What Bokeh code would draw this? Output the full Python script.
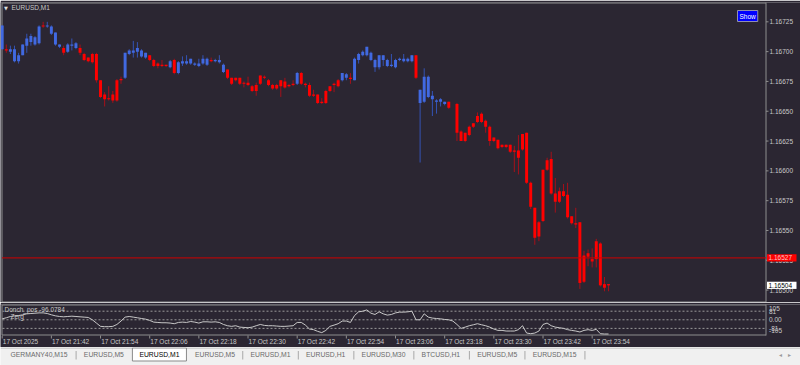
from bokeh.plotting import figure
from bokeh.layouts import column
from bokeh.models import Range1d, Label, ColumnDataSource
from bokeh.embed import file_html
from bokeh.resources import INLINE
from bokeh.core.properties import value

# ---------------- data ----------------
symbol = "EURUSD,M1"
time_labels = ["17 Oct 2025", "17 Oct 21:42", "17 Oct 21:54", "17 Oct 22:06",
               "17 Oct 22:18", "17 Oct 22:30", "17 Oct 22:42", "17 Oct 22:54",
               "17 Oct 23:06", "17 Oct 23:18", "17 Oct 23:30", "17 Oct 23:42",
               "17 Oct 23:54"]
label_bars = [0, 12, 24, 36, 48, 60, 72, 84, 96, 108, 120, 132, 144]
price_ticks = [1.16500, 1.16525, 1.16550, 1.16575, 1.16600,
               1.16625, 1.16650, 1.16675, 1.16700, 1.16725]

opens = [1.16702, 1.16702, 1.16700, 1.16692, 1.16692, 1.16697, 1.16705, 1.16708, 1.16706, 1.16707,
         1.16722, 1.16721, 1.16715, 1.16706, 1.16704, 1.16703, 1.16700, 1.16705, 1.16703, 1.16703,
         1.16698, 1.16695, 1.16698, 1.16698, 1.16676, 1.16664, 1.16661, 1.16664, 1.16676, 1.16677,
         1.16678, 1.16698, 1.16699, 1.16700, 1.16696, 1.16695, 1.16697, 1.16693, 1.16690, 1.16689,
         1.16689, 1.16687, 1.16693, 1.16682, 1.16690, 1.16690, 1.16690, 1.16689, 1.16688, 1.16690,
         1.16689, 1.16693, 1.16692, 1.16691, 1.16683, 1.16685, 1.16678, 1.16678, 1.16678, 1.16674,
         1.16674, 1.16671, 1.16672, 1.16680, 1.16679, 1.16676, 1.16672, 1.16672, 1.16676, 1.16675,
         1.16672, 1.16673, 1.16673, 1.16682, 1.16673, 1.16672, 1.16664, 1.16664, 1.16658, 1.16667,
         1.16671, 1.16673, 1.16676, 1.16676, 1.16678, 1.16678, 1.16676, 1.16693, 1.16697, 1.16697,
         1.16693, 1.16687, 1.16687, 1.16693, 1.16688, 1.16688, 1.16687, 1.16693, 1.16692, 1.16692,
         1.16692, 1.16697, 1.16657, 1.16658, 1.16662, 1.16660, 1.16658, 1.16658, 1.16656, 1.16658,
         1.16653, 1.16656, 1.16633, 1.16632, 1.16637, 1.16640, 1.16646, 1.16648, 1.16642, 1.16637,
         1.16628, 1.16626, 1.16622, 1.16622, 1.16622, 1.16617, 1.16617, 1.16631, 1.16632, 1.16590,
         1.16569, 1.16557, 1.16601, 1.16609, 1.16610, 1.16581, 1.16583, 1.16583, 1.16580, 1.16562,
         1.16556, 1.16557, 1.16529, 1.16531, 1.16526, 1.16541, 1.16539, 1.16505, 1.16505]
highs = [1.16722, 1.16706, 1.16705, 1.16705, 1.16699, 1.16706, 1.16715, 1.16715, 1.16713, 1.16722,
         1.16725, 1.16725, 1.16722, 1.16716, 1.16706, 1.16705, 1.16707, 1.16711, 1.16708, 1.16706,
         1.16699, 1.16695, 1.16699, 1.16699, 1.16676, 1.16666, 1.16671, 1.16667, 1.16677, 1.16679,
         1.16699, 1.16702, 1.16709, 1.16708, 1.16702, 1.16699, 1.16697, 1.16694, 1.16691, 1.16693,
         1.16689, 1.16693, 1.16694, 1.16692, 1.16696, 1.16697, 1.16694, 1.16691, 1.16694, 1.16697,
         1.16695, 1.16695, 1.16694, 1.16697, 1.16690, 1.16685, 1.16678, 1.16678, 1.16678, 1.16675,
         1.16679, 1.16672, 1.16674, 1.16680, 1.16680, 1.16677, 1.16673, 1.16673, 1.16676, 1.16678,
         1.16673, 1.16676, 1.16683, 1.16683, 1.16674, 1.16674, 1.16668, 1.16664, 1.16661, 1.16668,
         1.16671, 1.16674, 1.16677, 1.16682, 1.16682, 1.16682, 1.16695, 1.16699, 1.16701, 1.16704,
         1.16700, 1.16694, 1.16697, 1.16697, 1.16694, 1.16698, 1.16694, 1.16695, 1.16698, 1.16695,
         1.16697, 1.16697, 1.16668, 1.16686, 1.16680, 1.16667, 1.16660, 1.16661, 1.16658, 1.16658,
         1.16653, 1.16657, 1.16634, 1.16632, 1.16638, 1.16640, 1.16649, 1.16649, 1.16643, 1.16638,
         1.16628, 1.16626, 1.16622, 1.16622, 1.16622, 1.16621, 1.16630, 1.16631, 1.16632, 1.16591,
         1.16569, 1.16558, 1.16601, 1.16611, 1.16616, 1.16594, 1.16586, 1.16589, 1.16590, 1.16562,
         1.16569, 1.16557, 1.16533, 1.16534, 1.16535, 1.16543, 1.16540, 1.16511, 1.16505]
lows = [1.16702, 1.16699, 1.16698, 1.16691, 1.16690, 1.16697, 1.16699, 1.16705, 1.16705, 1.16706,
        1.16720, 1.16720, 1.16714, 1.16705, 1.16703, 1.16697, 1.16699, 1.16701, 1.16702, 1.16697,
        1.16692, 1.16691, 1.16690, 1.16674, 1.16661, 1.16654, 1.16659, 1.16657, 1.16658, 1.16673,
        1.16677, 1.16697, 1.16695, 1.16695, 1.16695, 1.16694, 1.16692, 1.16687, 1.16686, 1.16687,
        1.16687, 1.16686, 1.16681, 1.16681, 1.16688, 1.16689, 1.16689, 1.16688, 1.16687, 1.16689,
        1.16688, 1.16691, 1.16691, 1.16690, 1.16682, 1.16677, 1.16672, 1.16675, 1.16672, 1.16670,
        1.16671, 1.16666, 1.16663, 1.16672, 1.16677, 1.16671, 1.16668, 1.16668, 1.16662, 1.16669,
        1.16670, 1.16671, 1.16672, 1.16672, 1.16670, 1.16662, 1.16662, 1.16656, 1.16656, 1.16656,
        1.16666, 1.16666, 1.16670, 1.16675, 1.16676, 1.16673, 1.16676, 1.16690, 1.16696, 1.16696,
        1.16692, 1.16683, 1.16685, 1.16688, 1.16687, 1.16687, 1.16686, 1.16692, 1.16691, 1.16691,
        1.16691, 1.16677, 1.16607, 1.16657, 1.16661, 1.16646, 1.16648, 1.16654, 1.16655, 1.16652,
        1.16653, 1.16625, 1.16625, 1.16624, 1.16629, 1.16636, 1.16640, 1.16640, 1.16632, 1.16621,
        1.16624, 1.16618, 1.16619, 1.16619, 1.16615, 1.16599, 1.16597, 1.16617, 1.16589, 1.16568,
        1.16538, 1.16541, 1.16557, 1.16600, 1.16580, 1.16565, 1.16573, 1.16578, 1.16560, 1.16555,
        1.16552, 1.16501, 1.16506, 1.16520, 1.16519, 1.16519, 1.16503, 1.16499, 1.16499]
closes = [1.16722, 1.16701, 1.16702, 1.16702, 1.16697, 1.16706, 1.16711, 1.16713, 1.16712, 1.16721,
          1.16721, 1.16722, 1.16721, 1.16716, 1.16706, 1.16699, 1.16706, 1.16706, 1.16707, 1.16699,
          1.16693, 1.16692, 1.16691, 1.16676, 1.16662, 1.16660, 1.16660, 1.16659, 1.16659, 1.16676,
          1.16699, 1.16701, 1.16701, 1.16703, 1.16701, 1.16699, 1.16693, 1.16688, 1.16688, 1.16688,
          1.16688, 1.16692, 1.16682, 1.16691, 1.16692, 1.16692, 1.16694, 1.16690, 1.16690, 1.16694,
          1.16694, 1.16692, 1.16693, 1.16693, 1.16689, 1.16678, 1.16673, 1.16676, 1.16673, 1.16673,
          1.16672, 1.16667, 1.16667, 1.16673, 1.16678, 1.16672, 1.16669, 1.16669, 1.16671, 1.16670,
          1.16671, 1.16672, 1.16682, 1.16673, 1.16672, 1.16663, 1.16663, 1.16657, 1.16657, 1.16657,
          1.16667, 1.16672, 1.16671, 1.16682, 1.16681, 1.16677, 1.16694, 1.16698, 1.16700, 1.16704,
          1.16699, 1.16693, 1.16697, 1.16697, 1.16693, 1.16689, 1.16693, 1.16694, 1.16694, 1.16694,
          1.16697, 1.16678, 1.16668, 1.16679, 1.16679, 1.16663, 1.16659, 1.16660, 1.16658, 1.16653,
          1.16653, 1.16632, 1.16625, 1.16625, 1.16630, 1.16637, 1.16641, 1.16641, 1.16637, 1.16625,
          1.16625, 1.16619, 1.16620, 1.16620, 1.16616, 1.16616, 1.16611, 1.16618, 1.16590, 1.16570,
          1.16544, 1.16545, 1.16558, 1.16601, 1.16581, 1.16574, 1.16574, 1.16579, 1.16561, 1.16556,
          1.16555, 1.16506, 1.16507, 1.16528, 1.16524, 1.16526, 1.16504, 1.16502, 1.16504]
# 1 = blue (up trend), 0 = red (down trend)
trend = [1, 0, 1, 1, 1, 1, 1, 1, 1, 1,
         0, 1, 1, 1, 1, 0, 1, 1, 1, 0,
         0, 0, 0, 0, 0, 0, 0, 0, 0, 0,
         1, 1, 1, 1, 1, 1, 0, 0, 0, 0,
         0, 1, 0, 1, 1, 1, 1, 1, 1, 1,
         1, 0, 1, 1, 1, 0, 0, 0, 0, 0,
         0, 0, 0, 0, 0, 0, 0, 0, 0, 0,
         0, 0, 1, 0, 0, 0, 0, 0, 0, 0,
         0, 0, 0, 1, 1, 0, 1, 1, 1, 1,
         1, 1, 1, 1, 1, 1, 1, 1, 1, 1,
         1, 0, 1, 1, 1, 1, 1, 1, 1, 0,
         0, 0, 0, 0, 0, 0, 0, 0, 0, 0,
         0, 0, 0, 0, 0, 0, 0, 0, 0, 0,
         0, 0, 0, 0, 0, 0, 0, 0, 0, 0,
         0, 0, 0, 0, 0, 0, 0, 0, 0]
donch_pos = [9, 19, 31, 37, 40, 47, 56, 59, 62, 65,
             65, 59, 47, 37, 31, 28, 31, 34, 31, 28,
             25, 22, 0, -31, -62, -65, -65, -62, -44, -12,
             25, 31, 25, 19, 12, 6, -6, -22, -25, -28,
             -28, -31, -37, -25, -22, -25, -16, -22, -31, -19,
             -19, -22, -19, -25, -44, -56, -62, -56, -69, -72,
             -75, -69, -56, -44, -53, -56, -56, -59, -62, -62,
             -59, -56, -25, -25, -50, -87, -93, -109, -121, -100,
             -62, -50, -37, -12, -12, -25, 40, 75, 81, 93,
             62, 50, 75, 56, 44, 50, 65, 72, 72, 75,
             81, 0, 0, 56, 25, 16, 12, 9, 3, 0,
             -12, -44, -81, -69, -56, -47, -37, -47, -56, -69,
             -87, -100, -100, -106, -106, -106, -93, -56, -125, -131,
             -125, -106, -44, -31, -56, -69, -75, -81, -93, -100,
             -106, -115, -100, -93, -100, -90, -131, -134, -134]
donch_label = "Donch_pos -96.0784"
ind_name = "Zerg"
ind_levels = [105, 81, 0, -81, -105]
ind_dotted = [81, 0, -81]
alert_price = 1.16527
bid_price = closes[-1]
tabs = ["GERMANY40,M15", "EURUSD,M5", "EURUSD,M1", "EURUSD,M5", "EURUSD,M1",
        "EURUSD,H1", "EURUSD,M30", "BTCUSD,H1", "EURUSD,M5", "EURUSD,M15"]
active_tab = 2

# ---------------- style / pixel geometry ----------------
BG = "#2b2632"
FRAME = "#8e8e8e"
TXT = "#c8c8c8"
FONT = "Liberation Sans"
FS = "6.5px"
UP_BODY, DN_BODY = "#4169e1", "#ff0000"
UP_WICK, DN_WICK = "#3453b4", "#a5101a"

BAR_PX = 4.097            # pixels per bar
MAIN_TOP, MAIN_SPAN = 1.167412, 119237.0   # price at y=2 px, pixels per price unit
IND_TOP, IND_SPAN = 144.0, 0.10616         # value at y=304 px, pixels per unit


def xpx(px):
    return (px - 1.7) / BAR_PX


def ypm(py):
    return MAIN_TOP - (py - 2) / MAIN_SPAN


def ypi(py):
    return IND_TOP - (py - 304) / IND_SPAN


AX = 765.5  # price scale line (px)

bars = list(range(len(opens)))
src = ColumnDataSource(dict(
    x=bars, h=highs, l=lows,
    top=[max(o, c) for o, c in zip(opens, closes)],
    bottom=[min(o, c) for o, c in zip(opens, closes)],
    body=[UP_BODY if t else DN_BODY for t in trend],
    wick=[UP_WICK if t else DN_WICK for t in trend],
))

xr = Range1d(xpx(0), xpx(800))


def base_fig(height, yr, top_border):
    f = figure(width=800, height=height, x_range=xr, y_range=yr,
               output_backend="svg", toolbar_location=None, tools="",
               x_axis_location=None, y_axis_location=None,
               min_border_left=0, min_border_right=0, min_border_top=top_border,
               min_border_bottom=0,
               background_fill_color=BG, border_fill_color=BG, outline_line_color=None)
    f.xgrid.grid_line_color = None
    f.ygrid.grid_line_color = None
    return f


# ---------------- main price pane ----------------
p = base_fig(302, Range1d(ypm(302), ypm(2)), 2)

# frame lines
p.segment(x0=[xpx(1.5), xpx(1.5), xpx(1.5), xpx(AX)],
          y0=[ypm(2.5), ypm(2.5), ypm(301.5), ypm(0)],
          x1=[xpx(AX), xpx(1.5), xpx(AX), xpx(AX)],
          y1=[ypm(2.5), ypm(301.5), ypm(301.5), ypm(302)],
          line_color=FRAME, line_width=1)

# price scale
p.segment(x0=[xpx(AX)] * len(price_ticks), y0=price_ticks,
          x1=[xpx(AX + 2.5)] * len(price_ticks), y1=price_ticks,
          line_color=FRAME, line_width=1)
p.text(x=[xpx(769)] * len(price_ticks), y=price_ticks,
       text=[f"{v:.5f}" for v in price_ticks], text_color=TXT,
       text_font=value(FONT), text_font_size=FS, text_baseline="middle", text_align="left")

# candles
p.segment(x0="x", y0="l", x1="x", y1="h", source=src, line_color="wick", line_width=1)
p.vbar(x="x", width=0.72, top="top", bottom="bottom", source=src,
       fill_color="body", line_color=None)

# alert line + price boxes
p.segment(x0=[xpx(1.5)], y0=[alert_price], x1=[xpx(AX)], y1=[alert_price],
          line_color="#d00000", line_width=1)
box_h = 3.6 / MAIN_SPAN
p.quad(left=[xpx(766.5)] * 2, right=[xpx(796)] * 2,
       top=[alert_price + box_h, bid_price + box_h],
       bottom=[alert_price - box_h, bid_price - box_h],
       fill_color=["#ff0000", "#ffffff"], line_color=None)
p.text(x=[xpx(768)] * 2, y=[alert_price, bid_price],
       text=[f"{alert_price:.5f}", f"{bid_price:.5f}"],
       text_color=["#ffc4c4", "#000000"],
       text_font=value(FONT), text_font_size=FS, text_baseline="middle", text_align="left")

# header
p.add_layout(Label(x=xpx(5.5), y=ypm(7), text="\u25BC", text_baseline="middle",
                   text_align="center", text_font="DejaVu Sans", text_font_size="5px",
                   text_color="#e0e0e0"))
p.add_layout(Label(x=xpx(11), y=ypm(7), text=symbol, text_baseline="middle",
                   text_font=FONT, text_font_size=FS, text_color=TXT))
p.add_layout(Label(x=xpx(737), y=ypm(15.5), text="Show", text_baseline="middle",
                   text_font=FONT, text_font_size=FS, text_color="#ffffff",
                   background_fill_color="#0000ff", border_line_color="#9090b0",
                   padding=2))

# ---------------- indicator pane (+ time scale) ----------------
q = base_fig(45, Range1d(ypi(347), ypi(304)), 2)

q.segment(x0=[xpx(1.5), xpx(1.5), xpx(1.5), xpx(AX)],
          y0=[ypi(304.5), ypi(304.5), ypi(334.5), ypi(302)],
          x1=[xpx(AX), xpx(1.5), xpx(AX), xpx(AX)],
          y1=[ypi(304.5), ypi(334.5), ypi(334.5), ypi(335)],
          line_color=FRAME, line_width=1)
q.segment(x0=[xpx(2)] * len(ind_dotted), y0=ind_dotted,
          x1=[xpx(AX - 1)] * len(ind_dotted), y1=ind_dotted,
          line_color="#9a9a9a", line_dash="2 2", line_width=1)
q.line(bars, donch_pos, line_color="#c8c8c8", line_width=1)

q.text(x=[xpx(768.5)] * len(ind_levels), y=ind_levels,
       text=[f"{v:.2f}" if v == 0 else f"{v}" for v in ind_levels], text_color=TXT,
       text_font=value(FONT), text_font_size=FS, text_baseline="middle", text_align="left")

# time scale
q.segment(x0=label_bars, y0=[ypi(335)] * len(label_bars),
          x1=label_bars, y1=[ypi(338)] * len(label_bars),
          line_color=FRAME, line_width=1)
q.text(x=[b + 0.6 / BAR_PX for b in label_bars], y=[ypi(340.5)] * len(label_bars),
       text=time_labels, text_color=TXT,
       text_font=value(FONT), text_font_size=FS, text_baseline="middle", text_align="left")

q.add_layout(Label(x=xpx(4), y=ypi(309), text=donch_label, text_baseline="middle",
                   text_font=FONT, text_font_size=FS, text_color=TXT))
q.add_layout(Label(x=xpx(10), y=ypi(315.5), text=ind_name, text_baseline="middle",
                   text_font=FONT, text_font_size=FS, text_color=TXT))

# ---------------- tab bar ----------------
t = figure(width=800, height=18, x_range=Range1d(0, 800), y_range=Range1d(18, 0),
           output_backend="svg", toolbar_location=None, tools="",
           x_axis_location=None, y_axis_location=None,
           min_border_left=0, min_border_right=0, min_border_top=0, min_border_bottom=0,
           background_fill_color="#f0f0f0", border_fill_color="#f0f0f0",
           outline_line_color=None)
t.xgrid.grid_line_color = None
t.ygrid.grid_line_color = None
CHAR_W, GAP = 4.45, 15.5
starts, widths = [], []
cur = 10.0
for name in tabs:
    w = len(name) * CHAR_W
    starts.append(cur)
    widths.append(w)
    cur += w + GAP
t.segment(x0=[0], y0=[0.5], x1=[800], y1=[0.5], line_color="#b4b4b4", line_width=1)
sel = active_tab
t.quad(left=[starts[sel] - 7], right=[starts[sel] + widths[sel] + 7], top=[0.5], bottom=[13.5],
       fill_color="#ffffff", line_color="#8a8a8a", line_width=1)
sep_x = [s + w + GAP / 2 for s, w in zip(starts, widths)]
sep_x = [x for k, x in enumerate(sep_x) if k not in (sel - 1, sel)]
t.segment(x0=sep_x, y0=[3.5] * len(sep_x), x1=sep_x, y1=[12] * len(sep_x),
          line_color="#a8a8a8", line_width=1)
t.text(x=starts, y=[7.3] * len(tabs), text=tabs,
       text_color=["#000000" if k == sel else "#6a6a6a" for k in range(len(tabs))],
       text_font=value(FONT), text_font_size="6.8px", text_baseline="middle", text_align="left")
t.text(x=[780, 789], y=[7.3, 7.3], text=["\u25C2", "\u25B8"], text_color="#9a9a9a",
       text_font=value("DejaVu Sans"), text_font_size="6px", text_baseline="middle",
       text_align="center")

layout = column(p, q, t, spacing=0)
open("out.html", "w").write(file_html(layout, INLINE))
